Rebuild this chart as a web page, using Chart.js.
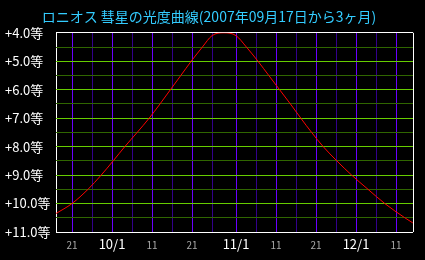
<!DOCTYPE html>
<html>
<head>
<meta charset="utf-8">
<script src="https://cdn.jsdelivr.net/npm/chart.js@4/dist/chart.umd.min.js"></script>
<style>
  body { margin: 0; background: #000; }
  #grafica { display: block; background: #000; }
</style>
</head>
<body>
<canvas id="grafica" width="425" height="260"></canvas>
<script>
// dias desde 2007-09-17 y magnitud
const dias = [0, 4, 8, 11.3, 14.3, 17.2, 20.3, 23.3, 26.0, 28.6, 31.2, 33.8, 36.6, 39, 42, 45, 47.6, 50.5, 53.2, 55.9, 58.6, 61.2, 63.9, 66.8, 70.2, 73.9, 78, 82.2, 87.2, 89.2];
const magnitudes = [10.35, 10.0, 9.5, 9.0, 8.5, 8.0, 7.5, 7.0, 6.5, 6.0, 5.5, 5.0, 4.5, 4.1, 4.0, 4.1, 4.5, 5.0, 5.5, 6.0, 6.5, 7.0, 7.5, 8.0, 8.5, 9.0, 9.5, 10.0, 10.5, 10.68];

// marcas del eje x (dias) y sus etiquetas
const diasMarca = [4, 9, 14, 19, 24, 29, 34, 39, 45, 50, 55, 60, 65, 70, 75, 80, 85];
const etiquetasX = ['21', '', '10/1', '', '11', '', '21', '', '11/1', '', '11', '', '21', '', '12/1', '', '11'];
const diaMax = 89.25;

// marcas del eje y (magnitud)
const magMarca = [4, 4.5, 5, 5.5, 6, 6.5, 7, 7.5, 8, 8.5, 9, 9.5, 10, 10.5, 11];
const etiquetasY = ['+4.0等', '', '+5.0等', '', '+6.0等', '', '+7.0等', '', '+8.0等', '', '+9.0等', '', '+10.0等', '', '+11.0等'];

const titulo = 'ロニオス 彗星の光度曲線(2007年09月17日から3ヶ月)';
const fuente = "'Noto Sans CJK JP', 'Noto Sans', sans-serif";

var grafica = document.getElementById('grafica');
var ctx = grafica.getContext('2d');

const puntos = dias.map((d, i) => ({ x: d, y: magnitudes[i] }));

function etiquetaDe(valor) {
    const i = diasMarca.indexOf(valor);
    return i >= 0 ? etiquetasX[i] : '';
}

function colorY(i) {
    if (i === 0 || i === magMarca.length - 1) return '#ffffff';
    return etiquetasY[i] ? '#66cc00' : '#2f6600';
}

const config = {
    type: 'line',
    data: {
        datasets: [{
            label: '光度',
            data: puntos,
            borderColor: '#ff0000',
            borderWidth: 1,
            pointRadius: 0,
            cubicInterpolationMode: 'monotone',
            fill: false,
        }],
    },
    options: {
        responsive: false,
        animation: false,
        layout: { padding: { left: 5, right: 12, top: 0, bottom: 0 } },
        plugins: {
            legend: { display: false },
            tooltip: { enabled: false },
            title: {
                display: true,
                text: titulo,
                color: '#33ccff',
                font: { family: fuente, size: 14, weight: 'normal' },
                padding: { top: 8, bottom: 8 },
            },
        },
        scales: {
            x: {
                type: 'linear',
                min: 0,
                max: diaMax,
                afterBuildTicks: (eje) => {
                    eje.ticks = [0].concat(diasMarca, [diaMax]).map(v => ({ value: v }));
                },
                afterFit: (eje) => { eje.height = 28; },
                grid: {
                    drawTicks: false,
                    lineWidth: 1,
                    color: (c) => {
                        const v = c.tick ? c.tick.value : 0;
                        if (v === 0 || v === diaMax) return '#ffffff';
                        return etiquetaDe(v) ? '#6a00ff' : '#33008c';
                    },
                },
                border: { display: false },
                ticks: {
                    autoSkip: false,
                    maxRotation: 0,
                    padding: 4,
                    callback: (v) => etiquetaDe(v),
                    color: (c) => (c.tick && etiquetaDe(c.tick.value).indexOf('/') >= 0) ? '#ffffff' : '#a8a8a8',
                    font: (c) => (c.tick && etiquetaDe(c.tick.value).indexOf('/') >= 0)
                        ? { family: fuente, size: 13, lineHeight: 1.2 }
                        : { family: fuente, size: 10, lineHeight: 1.8 },
                },
            },
            y: {
                type: 'linear',
                reverse: true,
                min: 4,
                max: 11,
                afterBuildTicks: (eje) => {
                    eje.ticks = magMarca.map(v => ({ value: v }));
                },
                afterFit: (eje) => { eje.width = 51; },
                grid: {
                    drawTicks: false,
                    lineWidth: 1,
                    color: (c) => colorY(c.index),
                },
                border: { display: false },
                ticks: {
                    autoSkip: false,
                    crossAlign: 'far',
                    color: '#ffffff',
                    font: { family: fuente, size: 13 },
                    callback: (v, i) => etiquetasY[i],
                },
            },
        },
    },
};

let miGrafica = new Chart(ctx, config);
</script>
</body>
</html>
